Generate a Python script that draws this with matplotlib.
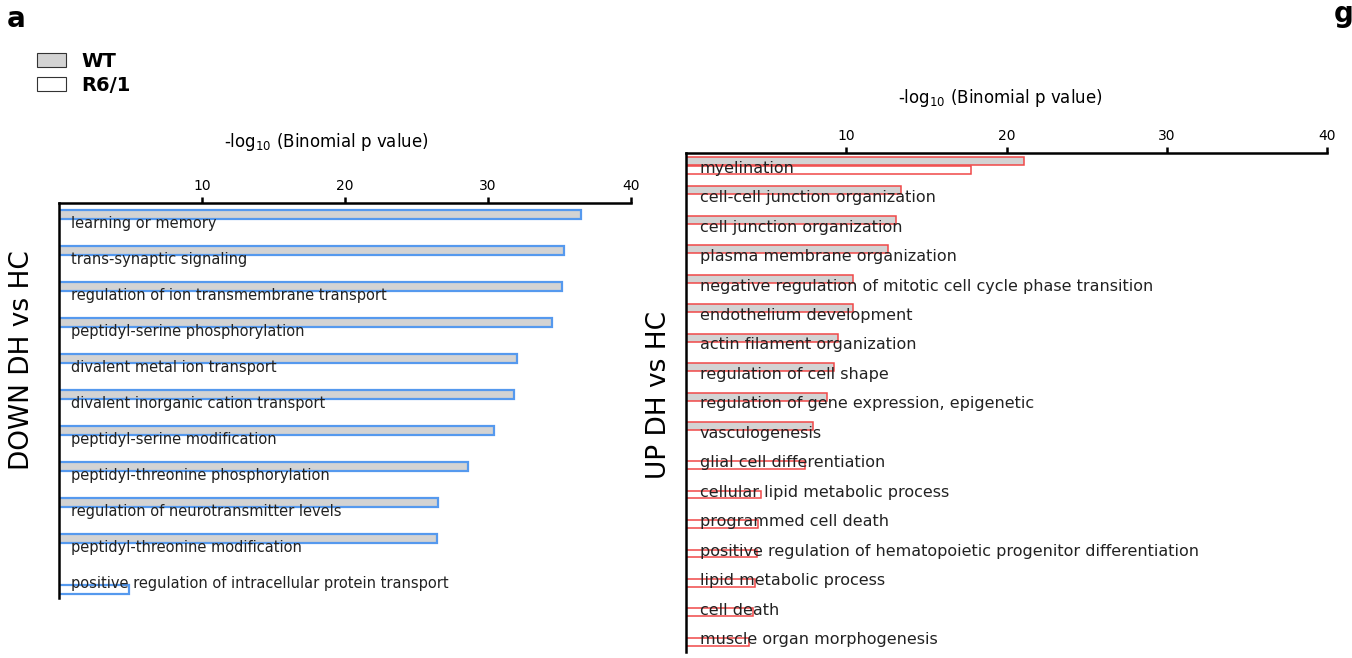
import matplotlib
matplotlib.use("Agg")
import matplotlib.pyplot as plt
from matplotlib.patches import Patch

plt.rcParams['font.family'] = ['DejaVu Sans']
plt.rcParams['mathtext.fontset'] = 'dejavusans'

# GO terms, DOWN DH vs HC
down_terms = [
    "learning or memory",
    "trans-synaptic signaling",
    "regulation of ion transmembrane transport",
    "peptidyl-serine phosphorylation",
    "divalent metal ion transport",
    "divalent inorganic cation transport",
    "peptidyl-serine modification",
    "peptidyl-threonine phosphorylation",
    "regulation of neurotransmitter levels",
    "peptidyl-threonine modification",
    "positive regulation of intracellular protein transport",
]
down_wt = [36.5, 35.3, 35.2, 34.5, 32.0, 31.8, 30.4, 28.6, 26.5, 26.4, 0]
down_r61 = [0, 0, 0, 0, 0, 0, 0, 0, 0, 0, 4.9]

# GO terms, UP DH vs HC
up_terms = [
    "myelination",
    "cell-cell junction organization",
    "cell junction organization",
    "plasma membrane organization",
    "negative regulation of mitotic cell cycle phase transition",
    "endothelium development",
    "actin filament organization",
    "regulation of cell shape",
    "regulation of gene expression, epigenetic",
    "vasculogenesis",
    "glial cell differentiation",
    "cellular lipid metabolic process",
    "programmed cell death",
    "positive regulation of hematopoietic progenitor differentiation",
    "lipid metabolic process",
    "cell death",
    "muscle organ morphogenesis",
]
up_wt = [21.1, 13.4, 13.1, 12.6, 10.4, 10.4, 9.5, 9.25, 8.8, 7.9, 0, 0, 0, 0, 0, 0, 0]
up_r61 = [17.8, 0, 0, 0, 0, 0, 0, 0, 0, 0, 7.4, 4.7, 4.5, 4.45, 4.3, 4.2, 3.95]

ticks = [10, 20, 30, 40]
gray = '#d3d3d3'
blue = '#5599ee'
red = '#f04848'

W, H = 1352, 658
fig = plt.figure(figsize=(W / 100, H / 100), dpi=100)


def panel(rect, terms, wt, r61, edge, lw, h, off_wt, off_r, ylim, fs, txt_off):
    ax = fig.add_axes(rect)
    for i, (a, b) in enumerate(zip(wt, r61)):
        if a > 0:
            ax.barh(i + off_wt, a, height=h, color=gray, edgecolor=edge, linewidth=lw)
        if b > 0:
            ax.barh(i + off_r, b, height=h, color='white', edgecolor=edge, linewidth=lw)
        ax.annotate(terms[i], xy=(0, i), xytext=(txt_off, 0), textcoords='offset points',
                    va='center', ha='left', fontsize=fs, color='#222222')
    ax.set_xlim(0, 40)
    ax.set_ylim(*ylim)
    ax.xaxis.tick_top()
    ax.set_xticks(ticks)
    ax.set_yticks([])
    ax.tick_params(axis='x', length=4, width=1.8, pad=3, labelsize=10)
    for s in ['right', 'bottom']:
        ax.spines[s].set_visible(False)
    for s in ['top', 'left']:
        ax.spines[s].set_linewidth(1.8)
    return ax


panel([59 / W, 1 - 598 / H, 572 / W, 395 / H], down_terms, down_wt, down_r61,
      blue, 1.6, 0.25, -0.25, 0.15, (10.39, -0.58), 10.5, 8.5)
panel([686 / W, 1 - 652 / H, 641 / W, 499 / H], up_terms, up_wt, up_r61,
      red, 1.1, 0.27, -0.25, 0.07, (16.41, -0.51), 11.5, 10)

title = r'-log$_{10}$ (Binomial p value)'
fig.text(326 / W, 1 - 142 / H, title, ha='center', va='center', fontsize=12)
fig.text(1000 / W, 1 - 98 / H, title, ha='center', va='center', fontsize=12)

fig.text(22 / W, 1 - 360 / H, 'DOWN DH vs HC', rotation=90, ha='center', va='center', fontsize=19)
fig.text(659 / W, 1 - 395 / H, 'UP DH vs HC', rotation=90, ha='center', va='center', fontsize=19)

fig.text(7 / W, 1 - 27 / H, 'a', fontsize=20, fontweight='bold', va='baseline')
fig.text(1334 / W, 1 - 22 / H, 'g', fontsize=20, fontweight='bold', va='baseline')

handles = [Patch(facecolor=gray, edgecolor='#333333', linewidth=0.8),
           Patch(facecolor='white', edgecolor='#333333', linewidth=0.8)]
fig.legend(handles, ['WT', 'R6/1'], loc='upper left', bbox_to_anchor=(37 / W, 1 - 52 / H),
           frameon=False, borderpad=0, borderaxespad=0, handlelength=1.5, handleheight=0.7,
           labelspacing=0.25, handletextpad=0.8, prop={'weight': 'bold', 'size': 14})

fig.savefig('out.png', dpi=100)
